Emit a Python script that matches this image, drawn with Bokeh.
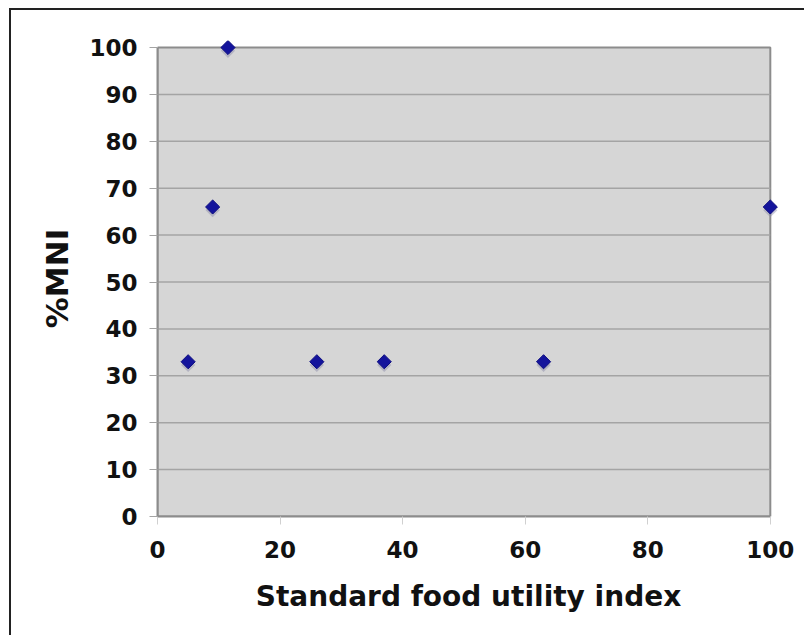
from bokeh.plotting import figure
from bokeh.models import Range1d, FixedTicker, ColumnDataSource, BoxAnnotation
from bokeh.embed import file_html
from bokeh.resources import INLINE
import math

# Data
utility_index = [5, 9, 11.5, 26, 37, 63, 100]
pct_mni = [33, 66, 100, 33, 33, 33, 66]
x_ticks = [0, 20, 40, 60, 80, 100]
y_ticks = [0, 10, 20, 30, 40, 50, 60, 70, 80, 90, 100]

FONT = "DejaVu Sans"
X_MAX = x_ticks[-1]
Y_MAX = y_ticks[-1]
PAD = 1.5  # small headroom so markers on the edge are not clipped

p = figure(width=795, height=627, output_backend="svg", toolbar_location=None,
           x_range=Range1d(0, X_MAX + PAD), y_range=Range1d(0, Y_MAX + PAD),
           min_border_left=146, min_border_right=27, min_border_top=30, min_border_bottom=121)
p.styles = {"margin": "8px 0px 0px 9px",
            "border-left": "2px solid #222222", "border-top": "2px solid #222222"}

p.background_fill_color = "white"
p.border_fill_color = "white"
p.outline_line_color = None

# plot area
p.add_layout(BoxAnnotation(left=0, right=X_MAX, bottom=0, top=Y_MAX,
                           fill_color="#d6d6d6", fill_alpha=1,
                           line_color="#8c8c8c", line_width=2, line_alpha=1,
                           level="underlay", editable=False))

# horizontal gridlines
inner = y_ticks[1:-1]
p.segment(x0=[0] * len(inner), x1=[X_MAX] * len(inner), y0=inner, y1=inner,
          line_color="#a4a4a4", line_width=1.5)

src = ColumnDataSource(dict(x=utility_index, y=pct_mni,
                            ys=[v - 0.7 for v in pct_mni]))
p.scatter("x", "ys", source=src, marker="square", size=10, angle=math.pi / 4,
          fill_color="#8a8aa8", line_color=None, fill_alpha=0.45)
p.scatter("x", "y", source=src, marker="square", size=10, angle=math.pi / 4,
          fill_color="#14149c", line_color="#0c0c80", line_width=1)

p.xaxis.ticker = FixedTicker(ticks=x_ticks)
p.yaxis.ticker = FixedTicker(ticks=y_ticks)
p.xaxis.bounds = (0, X_MAX)
p.yaxis.bounds = (0, Y_MAX)
p.xgrid.grid_line_color = None
p.ygrid.grid_line_color = None

for ax in (p.xaxis, p.yaxis):
    ax.major_label_text_font = FONT
    ax.major_label_text_font_style = "bold"
    ax.major_label_text_font_size = "23px"
    ax.major_label_text_color = "#111111"
    ax.axis_label_text_font = FONT
    ax.axis_label_text_font_style = "bold"
    ax.axis_label_text_color = "#111111"
    ax.minor_tick_line_color = None
    ax.major_tick_in = 0
    ax.major_tick_out = 8
    ax.axis_line_color = "#8c8c8c"
    ax.axis_line_width = 2

p.xaxis.axis_label_text_font_size = "28px"
p.yaxis.axis_label_text_font_size = "31px"
p.yaxis.major_tick_line_color = "#a4a4a4"
p.xaxis.major_tick_line_color = "#d0d0d0"
p.xaxis.major_label_standoff = 16
p.yaxis.major_label_standoff = 12
p.xaxis.axis_label = "Standard food utility index"
p.yaxis.axis_label = "%MNI"
p.xaxis.axis_label_standoff = 19
p.yaxis.axis_label_standoff = 11

open("out.html", "w").write(file_html(p, INLINE))
